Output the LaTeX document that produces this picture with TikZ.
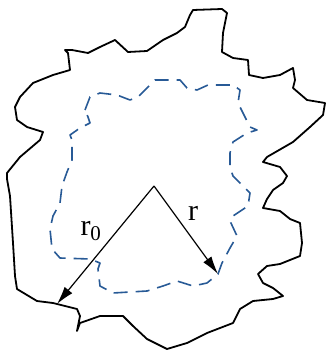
\documentclass[tikz,border=0pt]{standalone}
\usepackage{fontspec}
\setmainfont{Liberation Serif}
\usetikzlibrary{arrows.meta}
\definecolor{dashblue}{RGB}{40,90,150}
\tikzset{
  outline/.style={line width=1.8pt, black, line join=round},
  inner/.style={line width=1.6pt, dashblue, dash pattern=on 14pt off 8pt, line join=round},
  radius/.style={line width=1.2pt, -{Latex[length=18pt,width=10pt]}},
  lbl/.style={font=\fontsize{30}{34}\selectfont, inner sep=0pt}
}
\begin{document}
\begin{tikzpicture}[x=1pt,y=-1pt]
\useasboundingbox (0,0) rectangle (327,352);
\draw[outline] (65,50) -- (72,50) -- (88,53) -- (100,47) -- (115,40) -- (128,52) -- (147,51) -- (163,40) -- (177,33) -- (185,27) -- (190,15) -- (193,10) -- (222,9) -- (227,13) -- (223,33) -- (222,52) -- (233,58) -- (248,60) -- (249,75) -- (263,78) -- (280,75) -- (293,68) -- (295,80) -- (293,88) -- (307,100) -- (325,103) -- (323,115) -- (310,127) -- (293,142) -- (267,157) -- (263,162) -- (280,167) -- (287,176) -- (283,183) -- (273,190) -- (267,199) -- (263,208) -- (280,211) -- (290,219) -- (300,223) -- (302,243) -- (300,256) -- (280,264) -- (267,266) -- (258,274) -- (263,283) -- (273,288) -- (283,296) -- (273,299) -- (253,301) -- (240,309) -- (233,323) -- (207,333) -- (187,343) -- (167,349) -- (147,339) -- (133,326) -- (123,316) -- (100,316) -- (80,323) -- (77,331) -- (80,316) -- (77,309) -- (53,303) -- (37,301) -- (17,289) -- (15,276) -- (13,243) -- (10,196) -- (7,179) -- (7,173) -- (20,157) -- (40,140) -- (43,132) -- (27,127) -- (17,120) -- (15,107) -- (20,97) -- (33,83) -- (53,75) -- (70,70) -- (68,53) -- cycle;
\draw[inner] (85,110) -- (90,97) -- (100,93) -- (117,95) -- (130,100) -- (138,97) -- (145,90) -- (155,80) -- (180,80) -- (187,88) -- (197,90) -- (208,85) -- (233,85) -- (240,90) -- (238,103) -- (245,117) -- (250,127) -- (257,130) -- (247,133) -- (233,142) -- (230,153) -- (230,167) -- (233,176) -- (240,183) -- (250,193) -- (248,206) -- (233,216) -- (230,221) -- (237,236) -- (230,248) -- (222,263) -- (218,274) -- (207,283) -- (193,286) -- (177,281) -- (163,286) -- (147,291) -- (113,293) -- (100,286) -- (98,269) -- (100,263) -- (90,259) -- (60,258) -- (52,249) -- (50,229) -- (53,216) -- (60,203) -- (62,186) -- (67,172) -- (72,160) -- (72,140) -- (70,135) -- (80,128) -- (90,123) -- (88,117) -- cycle;
\coordinate (o) at (154,186);
\coordinate (e0) at (57,304);
\coordinate (e1) at (218,274);
\draw[radius] (o) -- (e0);
\draw[radius] (o) -- (e1);
\node[lbl] (l0) at (91,231) {r\textsubscript{0}};
\node[lbl] (l1) at (193,213) {r};
\end{tikzpicture}
\end{document}
